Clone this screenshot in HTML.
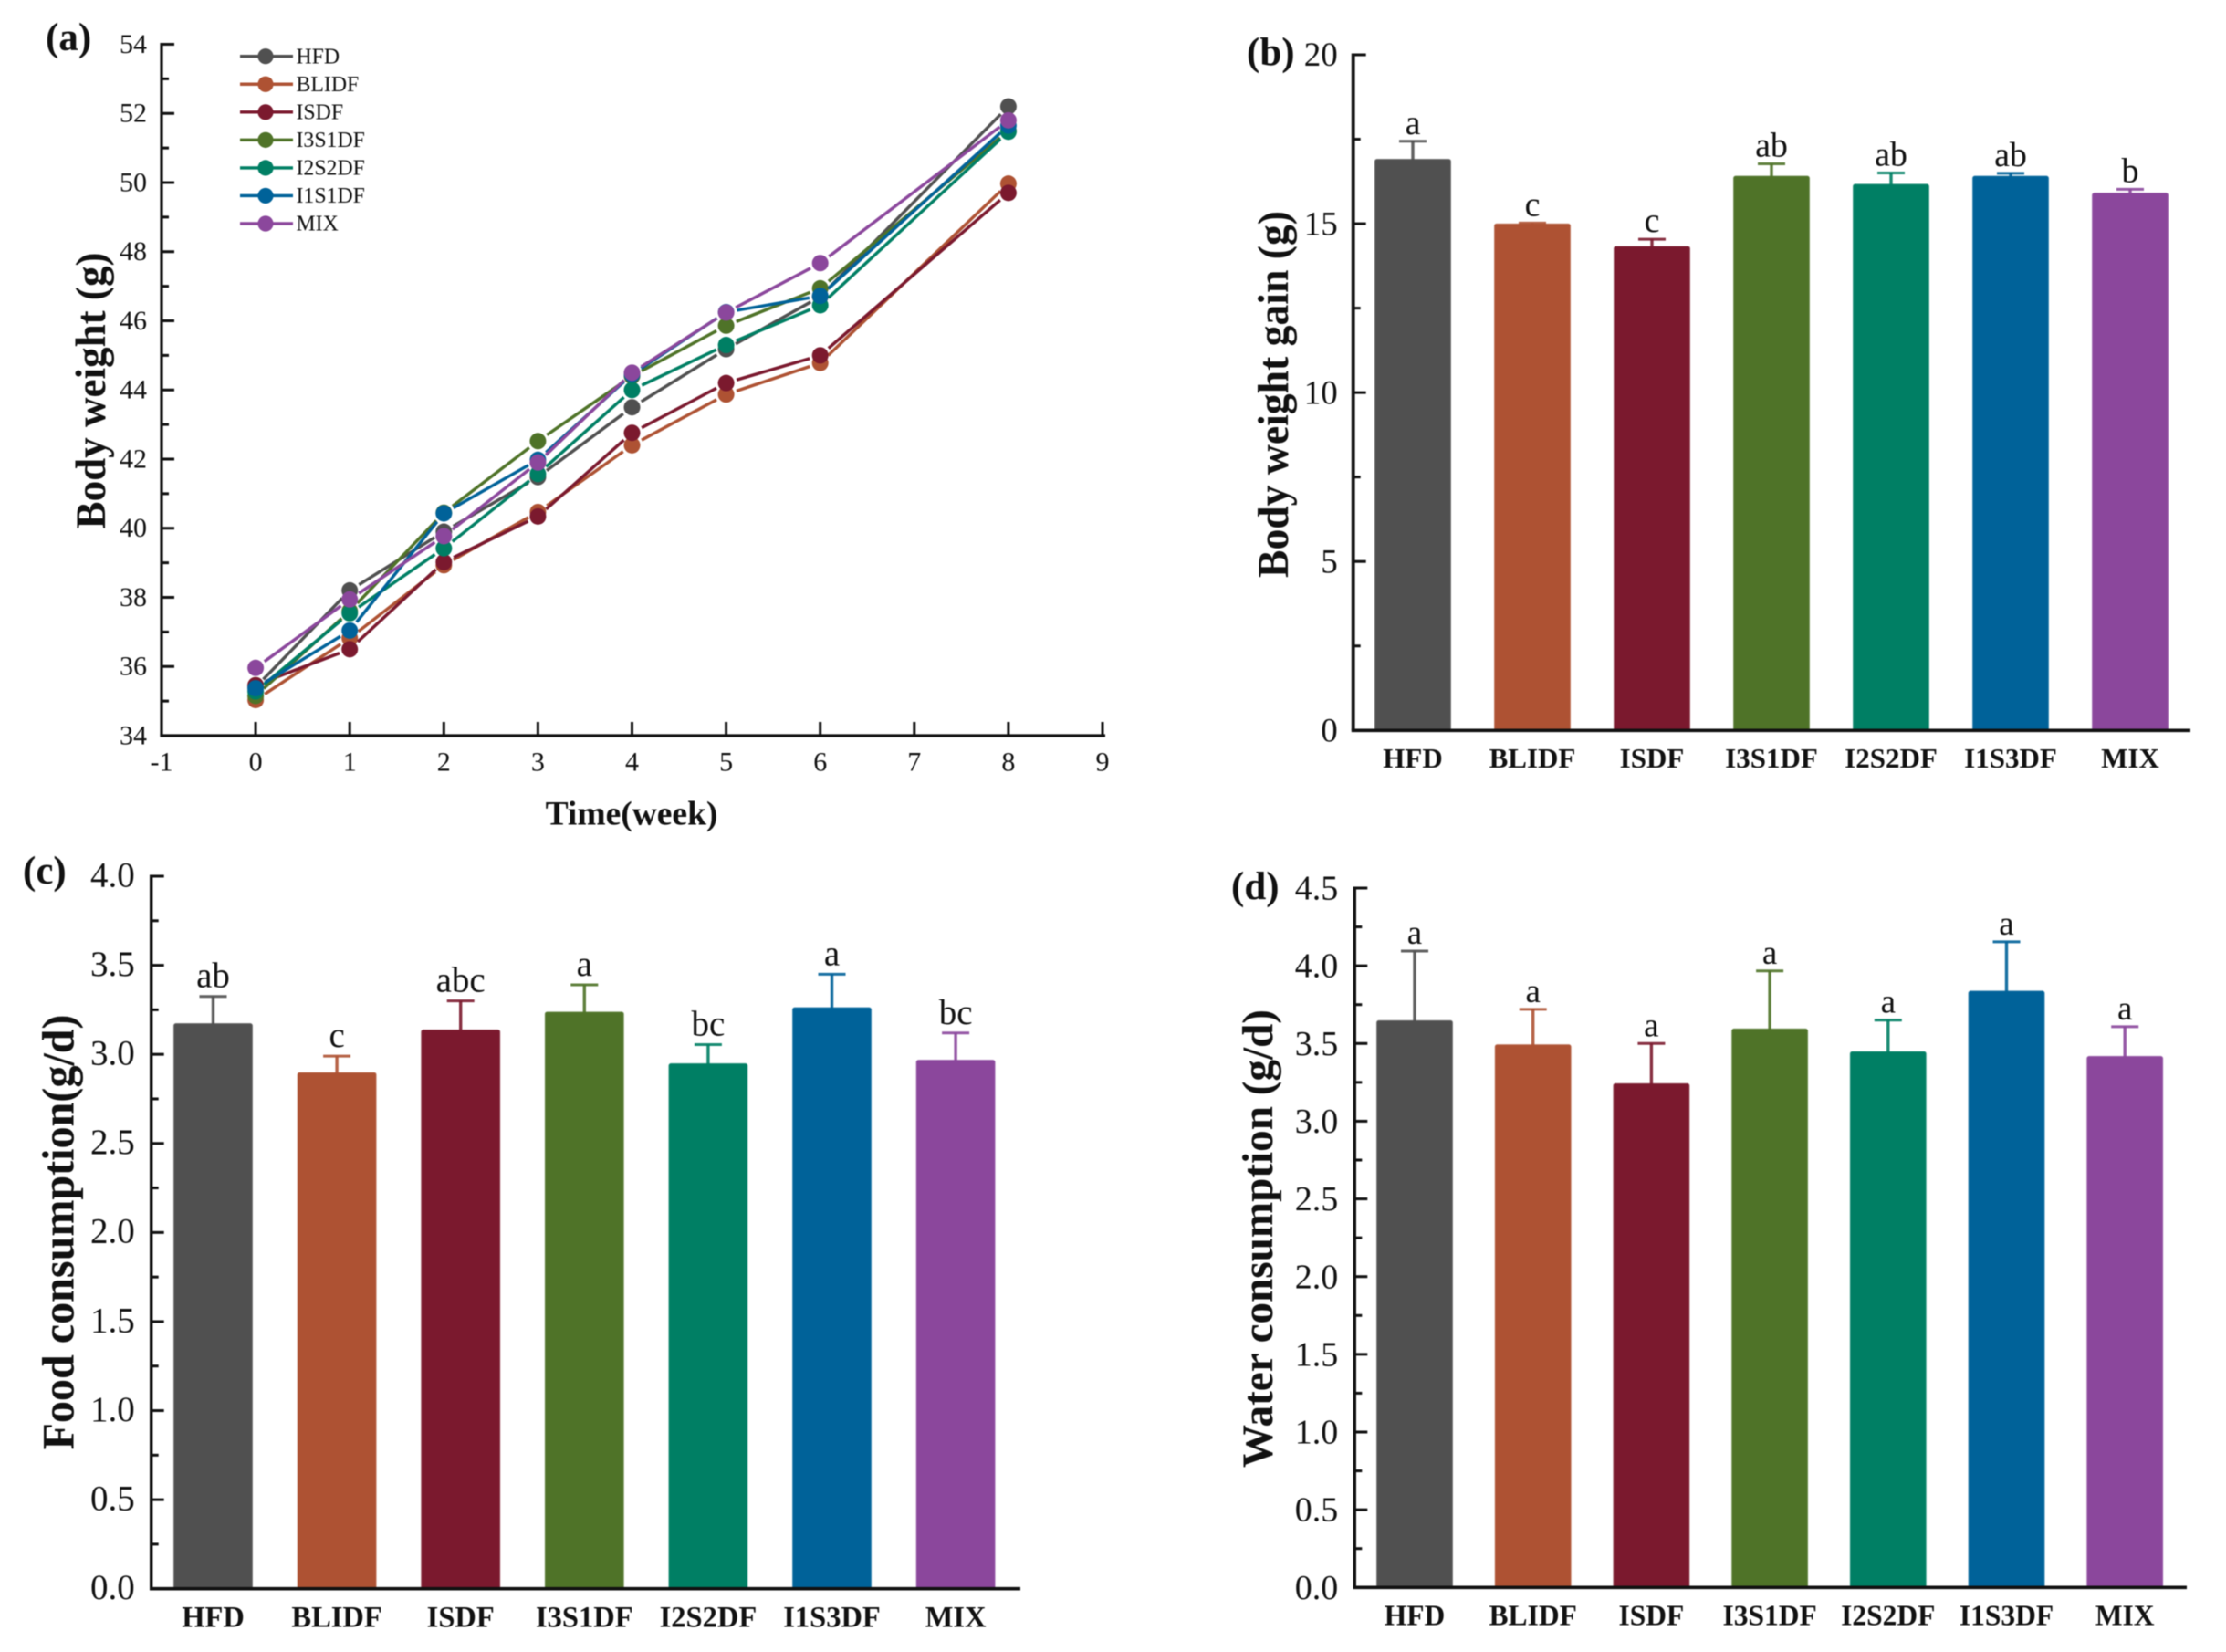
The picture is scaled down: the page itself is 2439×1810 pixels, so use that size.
<!DOCTYPE html>
<html lang="en">
<head>
<meta charset="utf-8">
<title>Body weight, weight gain, food and water consumption</title>
<style>
html,body{margin:0;padding:0;background:#fff;width:2439px;height:1810px;overflow:hidden}
svg{display:block;filter:blur(0.5px)}
text{font-family:"Liberation Serif","Times New Roman",serif;fill:#111}
</style>
</head>
<body>
<svg id="figure" xmlns="http://www.w3.org/2000/svg" width="2439" height="1810" viewBox="0 0 2439 1810"></svg>
<script>
// ---------- Shared data ----------
const barCategories = ['HFD','BLIDF','ISDF','I3S1DF','I2S2DF','I1S3DF','MIX'];
const seriesColors = ['#505050','#ae5233','#7b192e','#4f7328','#007f64','#006299','#8b479c'];

// ---------- Panel (a): line chart ----------
const weeks = [0,1,2,3,4,5,6,8];
const legendNames = ['HFD','BLIDF','ISDF','I3S1DF','I2S2DF','I1S1DF','MIX'];
const hfdWeights = [35.40,38.20,39.90,41.48,43.50,45.18,46.70,52.20];
const blidfWeights = [35.03,36.82,38.93,40.47,42.40,43.87,44.78,49.97];
const isdfWeights = [35.46,36.50,39.02,40.34,42.76,44.20,45.00,49.70];
const i3s1dfWeights = [35.15,37.60,40.45,42.52,44.40,45.86,46.94,51.50];
const i2s2dfWeights = [35.28,37.54,39.42,41.57,44.00,45.30,46.45,51.47];
const i1s1dfWeights = [35.37,37.04,40.43,41.98,44.45,46.25,46.72,51.65];
const mixWeights = [35.96,37.94,39.77,41.90,44.50,46.24,47.67,51.80];
const weightSeries = [hfdWeights,blidfWeights,isdfWeights,i3s1dfWeights,i2s2dfWeights,i1s1dfWeights,mixWeights];
const weightTicks = [34,36,38,40,42,44,46,48,50,52,54];
const weekTicks = [-1,0,1,2,3,4,5,6,7,8,9];

// ---------- Panel (b): body weight gain ----------
const gainValues = [16.92,15.01,14.34,16.42,16.18,16.42,15.92];
const gainErrorTops = [17.44,15.02,14.54,16.77,16.50,16.49,16.02];
const gainLetters = ['a','c','c','ab','ab','ab','b'];
const gainTicks = [0,5,10,15,20];
const gainTickLabels = ['0','5','10','15','20'];

// ---------- Panel (c): food consumption ----------
const foodValues = [3.175,2.90,3.14,3.24,2.95,3.265,2.97];
const foodErrorTops = [3.325,2.99,3.30,3.39,3.055,3.45,3.12];
const foodLetters = ['ab','c','abc','a','bc','a','bc'];
const foodTicks = [0,0.5,1,1.5,2,2.5,3,3.5,4];
const foodTickLabels = ['0.0','0.5','1.0','1.5','2.0','2.5','3.0','3.5','4.0'];

// ---------- Panel (d): water consumption ----------
const waterValues = [3.65,3.495,3.245,3.597,3.45,3.84,3.42];
const waterErrorTops = [4.095,3.72,3.50,3.967,3.65,4.154,3.608];
const waterLetters = ['a','a','a','a','a','a','a'];
const waterTicks = [0,0.5,1,1.5,2,2.5,3,3.5,4,4.5];
const waterTickLabels = ['0.0','0.5','1.0','1.5','2.0','2.5','3.0','3.5','4.0','4.5'];

// ---------- Helpers ----------
const NS = 'http://www.w3.org/2000/svg';
const root = document.getElementById('figure');
function make(tag, parent, attrs, content) {
  const node = document.createElementNS(NS, tag);
  for (const key in attrs) node.setAttribute(key, attrs[key]);
  if (content !== undefined) node.textContent = content;
  parent.appendChild(node);
  return node;
}
function linear(d0, d1, r0, r1) {
  return function (v) { return r0 + (v - d0) * (r1 - r0) / (d1 - d0); };
}
function slug(s) { return String(s).toLowerCase().replace(/[^a-z0-9]+/g, '-'); }

function drawYAxis(g, opt) {
  const axisLine = make('line', g, {x1:opt.x, x2:opt.x, y1:opt.yTop - 1.5, y2:opt.yBottom, stroke:'#111', 'stroke-width':opt.axisWidth});
  
  
  opt.ticks.forEach(function (t, i) {
    const y = opt.scale(t);
    const tick = make('line', g, {x1:opt.x, x2:opt.x + 14, y1:y, y2:y, stroke:'#111', 'stroke-width':3});
    
    
    const label = make('text', g, {x:opt.x - opt.labelGap, y:y + opt.fontSize * 0.33 + opt.labelShift, 'text-anchor':'end', 'font-size':opt.fontSize}, opt.labels[i]);
    
    
    if (i < opt.ticks.length - 1) {
      const my = opt.scale((t + opt.ticks[i + 1]) / 2);
      const minor = make('line', g, {x1:opt.x, x2:opt.x + 8, y1:my, y2:my, stroke:'#111', 'stroke-width':3});
      
      
    }
  });
}
function drawRotatedTitle(g, text, x, yCenter, length, size) {
  const title = make('text', g, {transform:'translate(' + x + ',' + yCenter + ') rotate(-90)', 'text-anchor':'middle', 'font-size':size, 'font-weight':'bold', textLength:length, lengthAdjust:'spacingAndGlyphs'}, text);
  
  
}
function drawPanelLetter(g, text, x, y) {
  const letter = make('text', g, {x:x, y:y, 'font-size':43, 'font-weight':'bold'}, text);
  
  
}

// ---------- Bar panels ----------
function drawBarPanel(opt) {
  const g = make('g', root, {});
  
  
  const yOf = linear(opt.domainMin, opt.domainMax, opt.yBottom, opt.yTop);
  const xOf = function (i) { return opt.firstCenter + opt.step * i; };

  opt.values.forEach(function (v, i) {
    const cx = xOf(i);
    const top = yOf(v);
    const capY = yOf(opt.errorTops[i]);
    const color = seriesColors[i];
    const stem = make('line', g, {x1:cx, x2:cx, y1:capY, y2:top + 1, stroke:color, 'stroke-width':3.4, 'stroke-opacity':0.9});
    
    
    const cap = make('line', g, {x1:cx - 15, x2:cx + 15, y1:capY, y2:capY, stroke:color, 'stroke-width':3, 'stroke-opacity':0.9});
    
    
    const bar = make('rect', g, {x:cx - opt.barWidth / 2 + 0.75, y:top + 0.75, width:opt.barWidth - 1.5, height:yOf(opt.domainMin) - top - 0.75, rx:2, fill:color, stroke:color, 'stroke-width':1.5, 'stroke-opacity':0.7});
    
    
    const letter = make('text', g, {x:cx, y:capY - opt.letterGap, 'text-anchor':'middle', 'font-size':opt.letterSize}, opt.letters[i]);
    
    
    const cat = make('text', g, {x:cx, y:opt.catBaseline, 'text-anchor':'middle', 'font-size':opt.catSize, 'font-weight':'bold'}, barCategories[i]);
    
    
  });

  drawYAxis(g, {x:opt.axisX, yTop:opt.yTop, yBottom:opt.yBottom, axisWidth:opt.axisWidth, ticks:opt.ticks, labels:opt.tickLabels, scale:yOf, fontSize:opt.tickSize, labelGap:opt.labelGap, labelShift:opt.labelShift});
  const base = make('line', g, {x1:opt.axisX - opt.axisWidth / 2, x2:opt.axisEnd, y1:opt.yBottom, y2:opt.yBottom, stroke:'#111', 'stroke-width':3.6});
  
  
  drawRotatedTitle(g, opt.title, opt.titleX, opt.titleY, opt.titleLength, opt.titleSize);
  drawPanelLetter(g, opt.panelLabel, opt.panelX, opt.panelY);
}

// ---------- Panel (a) ----------
function drawLinePanel() {
  const g = make('g', root, {});
  
  
  const axisX = 177, yBottom = 806, yTop = 48.5, gap = 12, markerR = 9;
  const xOf = linear(-1, 9, 177, 1208);
  const yOf = linear(34, 54, yBottom, yTop);

  drawYAxis(g, {x:axisX, yTop:yTop, yBottom:yBottom, axisWidth:3.2, ticks:weightTicks, labels:weightTicks.map(String), scale:yOf, fontSize:30, labelGap:16, labelShift:-0.5});
  const base = make('line', g, {x1:axisX - 1.6, x2:1211, y1:yBottom, y2:yBottom, stroke:'#111', 'stroke-width':3.2});
  
  
  weekTicks.forEach(function (w) {
    const x = xOf(w);
    const tick = make('line', g, {x1:x, x2:x, y1:yBottom, y2:yBottom - 15, stroke:'#111', 'stroke-width':3});
    
    
    const label = make('text', g, {x:x, y:844.5, 'text-anchor':'middle', 'font-size':30}, String(w));
    
    
  });

  weightSeries.forEach(function (vals, s) {
    const color = seriesColors[s];
    let d = '';
    for (let i = 0; i < vals.length - 1; i++) {
      const x1 = xOf(weeks[i]), y1 = yOf(vals[i]), x2 = xOf(weeks[i + 1]), y2 = yOf(vals[i + 1]);
      const len = Math.hypot(x2 - x1, y2 - y1);
      const ux = (x2 - x1) / len, uy = (y2 - y1) / len;
      d += 'M' + (x1 + ux * gap).toFixed(2) + ' ' + (y1 + uy * gap).toFixed(2) + 'L' + (x2 - ux * gap).toFixed(2) + ' ' + (y2 - uy * gap).toFixed(2);
    }
    const line = make('path', g, {d:d, fill:'none', stroke:color, 'stroke-width':3.4});
    
    
    vals.forEach(function (v, i) {
      const pt = make('circle', g, {cx:xOf(weeks[i]), cy:yOf(v), r:markerR, fill:color});
      
      
    });
  });

  const legend = make('g', g, {});
  
  
  legendNames.forEach(function (name, i) {
    const y = 61.7 + i * 30.55;
    const entry = make('g', legend, {});
    
    
    make('line', entry, {x1:263, x2:321, y1:y, y2:y, stroke:seriesColors[i], 'stroke-width':3.4});
    make('circle', entry, {cx:291, cy:y, r:8.6, fill:seriesColors[i]});
    make('text', entry, {x:324.5, y:y + 7.6, 'font-size':23.8}, name);
  });

  const xTitle = make('text', g, {x:692, y:903.5, 'text-anchor':'middle', 'font-size':37.5, 'font-weight':'bold'}, 'Time(week)');
  
  
  drawRotatedTitle(g, 'Body weight (g)', 115, 428, 303, 47);
  drawPanelLetter(g, '(a)', 50, 55);
}

drawLinePanel();

drawBarPanel({name:'panel-b-body-weight-gain', values:gainValues, errorTops:gainErrorTops, letters:gainLetters,
  ticks:gainTicks, tickLabels:gainTickLabels, domainMin:0, domainMax:20, yBottom:800.3, yTop:60,
  axisX:1482.7, axisWidth:3.8, axisEnd:2400, firstCenter:1548, step:131, barWidth:84,
  tickSize:37, labelGap:17, labelShift:0, letterSize:38, letterGap:8, catBaseline:841, catSize:31,
  title:'Body weight gain (g)', titleX:1411, titleY:432, titleLength:402, titleSize:48,
  panelLabel:'(b)', panelX:1366, panelY:71});

drawBarPanel({name:'panel-c-food-consumption', values:foodValues, errorTops:foodErrorTops, letters:foodLetters,
  ticks:foodTicks, tickLabels:foodTickLabels, domainMin:0, domainMax:4, yBottom:1740.7, yTop:960,
  axisX:165.7, axisWidth:3.4, axisEnd:1118, firstCenter:233.5, step:135.6, barWidth:87,
  tickSize:39, labelGap:18, labelShift:-1.5, letterSize:39, letterGap:10, catBaseline:1782.7, catSize:32.5,
  title:'Food consumption(g/d)', titleX:80.5, titleY:1350, titleLength:477, titleSize:50,
  panelLabel:'(c)', panelX:25, panelY:968});

drawBarPanel({name:'panel-d-water-consumption', values:waterValues, errorTops:waterErrorTops, letters:waterLetters,
  ticks:waterTicks, tickLabels:waterTickLabels, domainMin:0, domainMax:4.5, yBottom:1739.3, yTop:973,
  axisX:1484.3, axisWidth:3.4, axisEnd:2396, firstCenter:1550, step:129.7, barWidth:84,
  tickSize:38, labelGap:18, labelShift:0, letterSize:37, letterGap:8, catBaseline:1780.7, catSize:31.5,
  title:'Water consumption (g/d)', titleX:1394, titleY:1357, titleLength:502, titleSize:48,
  panelLabel:'(d)', panelX:1349, panelY:985});
</script>
</body>
</html>
